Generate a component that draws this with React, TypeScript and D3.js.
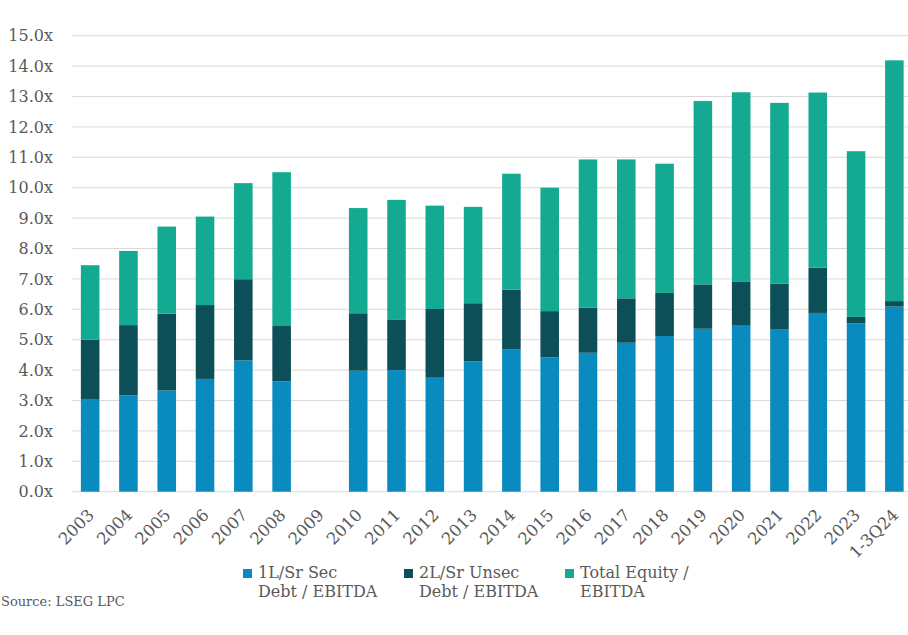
import React from "react";
import * as d3 from "d3";

const categories = ["2003","2004","2005","2006","2007","2008","2009","2010","2011","2012","2013","2014","2015","2016","2017","2018","2019","2020","2021","2022","2023","1-3Q24"];
// stacked component values (x EBITDA)
const firstLien = [3.05,3.17,3.33,3.71,4.32,3.63,0,3.98,4.0,3.75,4.29,4.69,4.42,4.57,4.9,5.12,5.36,5.46,5.35,5.88,5.54,6.09];
const secondLien = [1.95,2.31,2.53,2.43,2.67,1.82,0,1.89,1.65,2.26,1.91,1.96,1.52,1.48,1.46,1.42,1.46,1.44,1.49,1.49,0.21,0.18];
const equity = [2.45,2.44,2.86,2.91,3.16,5.06,0,3.46,3.95,3.4,3.17,3.81,4.06,4.88,4.57,4.25,6.03,6.24,5.95,5.76,5.45,7.92];
const yTicks = [0,1,2,3,4,5,6,7,8,9,10,11,12,13,14,15];
const seriesNames = [["1L/Sr Sec","Debt / EBITDA"],["2L/Sr Unsec","Debt / EBITDA"],["Total Equity /","EBITDA"]];
const colors = ["#0a8bbf","#0c4f58","#14aa91"];

export default function App() {
  const W = 908, H = 635;
  const x = d3.scaleBand<string>().domain(categories).range([71, 913.5]).paddingInner(0.515).paddingOuter(0.2575);
  const y = d3.scaleLinear().domain([0, 15]).range([491.7, 35.7]);
  const rows = categories.map((c, i) => ({ cat: c, a: firstLien[i], b: secondLien[i], c: equity[i] }));
  const stack = d3.stack<any>().keys(["a","b","c"])(rows);
  const font = "'DejaVu Serif', serif";
  const textColor = "#595959";
  const legendX = [243, 404, 565];
  return (
    <svg width={W} height={H} style={{ position: "absolute", left: 0, top: 0, background: "#fff" }} fontFamily={font}>
      {yTicks.map(t => (
        <g key={t}>
          <line x1={72} x2={W} y1={y(t)} y2={y(t)} stroke="#d9d9d9" strokeWidth={1} />
          <text x={53} y={y(t)} dy="0.35em" textAnchor="end" fontSize={16} fill={textColor}>{t.toFixed(1) + "x"}</text>
        </g>
      ))}
      {stack.map((s, si) => (
        <g key={si} fill={colors[si]}>
          {s.map((d, i) => (
            d[1] - d[0] > 0 ? <rect key={i} x={x(categories[i])} width={x.bandwidth()} y={y(d[1])} height={y(d[0]) - y(d[1])} /> : null
          ))}
        </g>
      ))}
      {categories.map(c => {
        const cx = (x(c) as number) + x.bandwidth() / 2 + 5;
        return (
          <text key={c} transform={`translate(${cx},${516}) rotate(-45)`} textAnchor="end" fontSize={16.5} fill={textColor}>{c}</text>
        );
      })}
      {seriesNames.map((n, i) => (
        <g key={i}>
          <rect x={legendX[i]} y={569} width={9} height={9} fill={colors[i]} />
          <text x={legendX[i] + 15} y={578} fontSize={16} fill={textColor}>{n[0]}</text>
          <text x={legendX[i] + 15} y={597} fontSize={16} fill={textColor}>{n[1]}</text>
        </g>
      ))}
      <text x={1} y={606} fontSize={13} fill={textColor}>Source: LSEG LPC</text>
    </svg>
  );
}
